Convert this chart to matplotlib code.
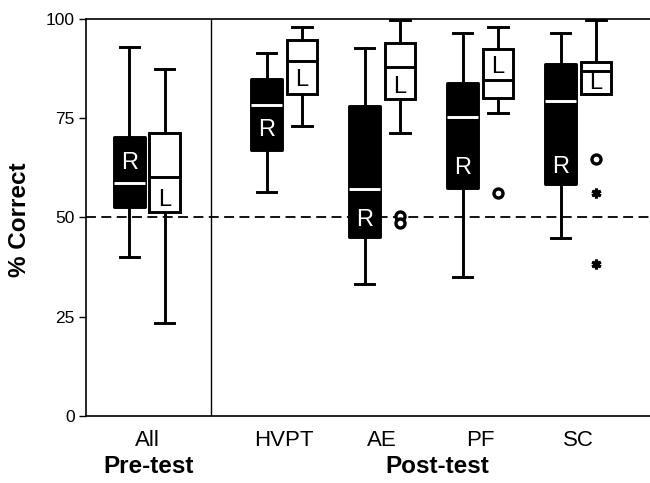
import matplotlib
matplotlib.use('Agg')
import matplotlib.pyplot as plt
import matplotlib.transforms as mtransforms

plt.rcParams['font.family'] = ['Liberation Sans', 'DejaVu Sans']

# ---------------- data ----------------
groups = ['All', 'HVPT', 'AE', 'PF', 'SC']
phases = ['Pre-test', 'Post-test']

# Right ear (filled boxes, "R")
r_whislo = [40.0, 56.4, 33.2, 35.0, 44.8]
r_q1     = [52.6, 67.0, 45.1, 57.4, 58.4]
r_med    = [58.7, 78.3, 57.2, 75.3, 79.4]
r_q3     = [70.3, 84.9, 78.1, 83.9, 88.6]
r_whishi = [93.0, 91.4, 92.7, 96.5, 96.5]

# Left ear (open boxes, "L")
l_whislo = [23.4, 73.0, 71.3, 76.3, 81.1]
l_q1     = [51.5, 81.1, 79.8, 80.1, 81.1]
l_med    = [60.2, 89.4, 88.0, 84.6, 86.9]
l_q3     = [71.3, 94.7, 93.9, 92.4, 89.2]
l_whishi = [87.4, 98.0, 99.7, 98.0, 99.7]

l_outliers = [[], [], [50.3, 48.6], [56.2], [64.7]]
l_extremes = [[], [], [], [], [56.2, 38.3]]

chance_level = 50

# ---------------- layout ----------------
group_pos = [0.0, 1.4, 2.4, 3.4, 4.4]
offset = 0.18
box_w = 0.31
cap_w = 0.2
separator_x = 0.653
phase_label_x = [0.02, 2.96]
r_label_y = [63.7, 72.0, 49.4, 62.4, 62.8]
l_label_y = [54.4, 84.6, 82.9, 88.0, 83.9]

fig = plt.figure(figsize=(6.5, 4.83), dpi=100)
ax = fig.add_axes([0.1323, 0.1387, 0.8677, 0.822])


def stats(lo, q1, med, q3, hi):
    return [dict(whislo=a, q1=b, med=c, q3=d, whishi=e, fliers=[])
            for a, b, c, d, e in zip(lo, q1, med, q3, hi)]


r_pos = [g - offset for g in group_pos]
l_pos = [g + offset for g in group_pos]

lw = 2.1
ax.bxp(stats(r_whislo, r_q1, r_med, r_q3, r_whishi), positions=r_pos,
       widths=box_w, capwidths=cap_w, patch_artist=True, showfliers=False,
       boxprops=dict(facecolor='black', edgecolor='black', linewidth=lw, joinstyle='round'),
       medianprops=dict(color='white', linewidth=lw),
       whiskerprops=dict(color='black', linewidth=lw),
       capprops=dict(color='black', linewidth=lw), manage_ticks=False)

ax.bxp(stats(l_whislo, l_q1, l_med, l_q3, l_whishi), positions=l_pos,
       widths=box_w, capwidths=cap_w, patch_artist=True, showfliers=False,
       boxprops=dict(facecolor='white', edgecolor='black', linewidth=lw),
       medianprops=dict(color='black', linewidth=lw),
       whiskerprops=dict(color='black', linewidth=lw),
       capprops=dict(color='black', linewidth=lw), manage_ticks=False)

for x, vals in zip(l_pos, l_outliers):
    if vals:
        ax.plot([x] * len(vals), vals, 'o', mfc='white', mec='black', ms=6.5, mew=2.4, zorder=5)
for x, vals in zip(l_pos, l_extremes):
    if vals:
        ax.plot([x] * len(vals), vals, marker=(6, 2, 0), ls='none', color='black', ms=7, mew=2.2, zorder=5)

for x, y in zip(r_pos, r_label_y):
    ax.text(x, y, 'R', color='white', fontsize=17, ha='center', va='center', zorder=6)
for x, y in zip(l_pos, l_label_y):
    ax.text(x, y, 'L', color='black', fontsize=17, ha='center', va='center', zorder=6)

ax.axhline(chance_level, color='black', lw=1.3, ls=(0, (5.5, 3)), zorder=1)
ax.axvline(separator_x, color='black', lw=1.0)

ax.set_xlim(-0.622, 5.133)
ax.set_ylim(0, 100)
ax.set_yticks([0, 25, 50, 75, 100])
ax.tick_params(axis='y', labelsize=12.5, length=5, width=1, direction='out', pad=3)
ax.set_xticks(group_pos)
ax.set_xticklabels(groups)
ax.tick_params(axis='x', labelsize=16, length=0, pad=10)

for s in ['left', 'top', 'bottom']:
    ax.spines[s].set_linewidth(1.2)
ax.spines['right'].set_visible(False)

fig.text(20 / 650, 1 - 220 / 483, '% Correct', fontsize=17.5, fontweight='bold',
         rotation=90, ha='center', va='center')

trans = mtransforms.blended_transform_factory(ax.transData, ax.transAxes)
for x, name in zip(phase_label_x, phases):
    ax.text(x, -0.126, name, transform=trans, fontsize=17.5, fontweight='bold',
            ha='center', va='center')

fig.savefig('out.png', dpi=100)
